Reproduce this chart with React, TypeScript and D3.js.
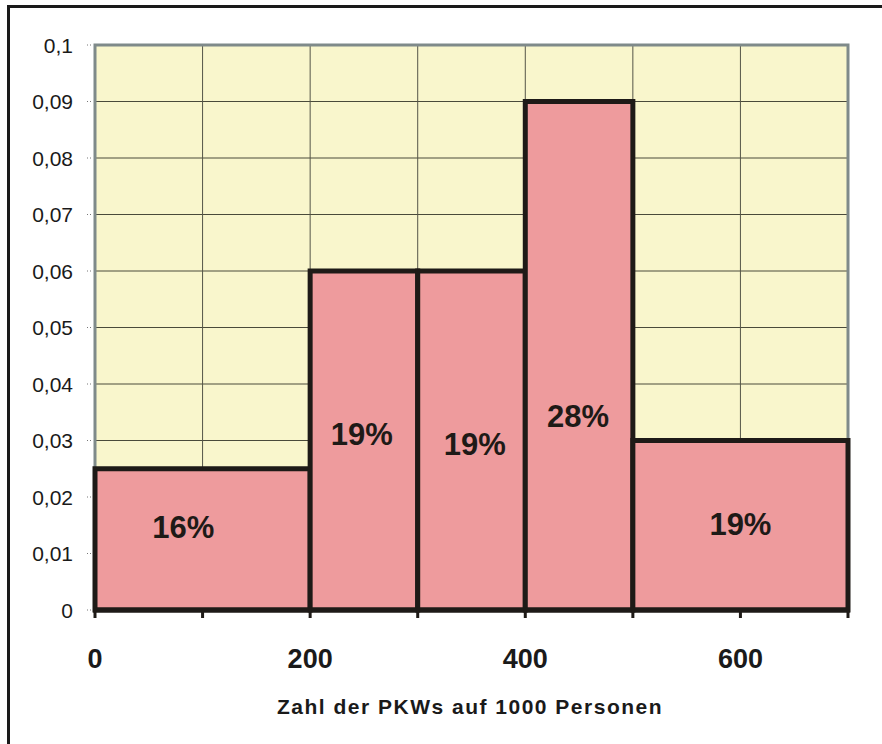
import React from "react";
import * as d3 from "d3";

// Histogram classes (PKWs per 1000 persons)
const binStarts = [0, 200, 300, 400, 500];
const binEnds = [200, 300, 400, 500, 700];
const densities = [0.025, 0.06, 0.06, 0.09, 0.03];
const shareLabels = ["16%", "19%", "19%", "28%", "19%"];
// label anchors in data units
const labelX = [82, 248, 353, 449, 600];
const labelY = [0.0127, 0.0292, 0.0274, 0.0324, 0.0133];

const yTicks = [0, 0.01, 0.02, 0.03, 0.04, 0.05, 0.06, 0.07, 0.08, 0.09, 0.1];
const xTickMarks = [0, 100, 200, 300, 400, 500, 600, 700];
const xTickLabels = [0, 200, 400, 600];
const xTitle = "Zahl der PKWs auf 1000 Personen";

const W = 882;
const H = 744;
const left = 95, right = 848, top = 45, bottom = 610;
const font = "'Liberation Sans', Arial, sans-serif";

export default function App() {
  const x = d3.scaleLinear().domain([0, 700]).range([left, right]);
  const y = d3.scaleLinear().domain([0, 0.1]).range([bottom, top]);
  const fmt = (v: number) => String(+v.toFixed(2)).replace(".", ",");

  return (
    <svg width={W} height={H} style={{ position: "absolute", left: 0, top: 0, background: "#fff" }}>
      {/* outer frame */}
      <line x1={8.5} y1={5} x2={8.5} y2={H} stroke="#1a1a1a" strokeWidth={3} />
      <line x1={7} y1={6.5} x2={W} y2={6.5} stroke="#1a1a1a" strokeWidth={3} />

      {/* plot background */}
      <rect x={left} y={top} width={right - left} height={bottom - top} fill="#f9f6cc" />

      {/* gridlines */}
      {yTicks.slice(1, -1).map((t) => (
        <line key={"hy" + t} x1={left} x2={right} y1={y(t)} y2={y(t)} stroke="#4a4a3a" strokeWidth={1} />
      ))}
      {xTickMarks.slice(1, -1).map((t) => (
        <line key={"vx" + t} x1={x(t)} x2={x(t)} y1={top} y2={bottom} stroke="#555548" strokeWidth={1} />
      ))}

      {/* plot border */}
      <path
        d={`M${left},${bottom} L${left},${top} L${right},${top} L${right},${bottom}`}
        fill="none"
        stroke="#7f8a8a"
        strokeWidth={3}
      />

      {/* bars */}
      {densities.map((d, i) => (
        <rect
          key={"b" + i}
          x={x(binStarts[i])}
          y={y(d)}
          width={x(binEnds[i]) - x(binStarts[i])}
          height={y(0) - y(d)}
          fill="#ee9b9d"
          stroke="#1e1a17"
          strokeWidth={5}
        />
      ))}

      {/* x axis line */}
      <line x1={left - 2} x2={right + 2} y1={bottom} y2={bottom} stroke="#1e1a17" strokeWidth={5} />
      {xTickMarks.map((t) => (
        <line key={"xt" + t} x1={x(t)} x2={x(t)} y1={bottom} y2={bottom + 8} stroke="#1e1a17" strokeWidth={3} />
      ))}

      {/* y ticks */}
      {yTicks.map((t) => (
        <g key={"yt" + t}>
          <line x1={left - 8} x2={left - 2} y1={y(t)} y2={y(t)} stroke="#777" strokeWidth={1} strokeDasharray="1,2" />
          <text x={73} y={y(t)} dy="0.36em" textAnchor="end" fontFamily={font} fontSize={21} fill="#1a1a1a">
            {fmt(t)}
          </text>
        </g>
      ))}

      {/* x tick labels */}
      {xTickLabels.map((t) => (
        <text key={"xl" + t} x={x(t)} y={668} textAnchor="middle" fontFamily={font} fontSize={27} fontWeight="bold" fill="#1a1a1a">
          {t}
        </text>
      ))}

      {/* bar labels */}
      {shareLabels.map((s, i) => (
        <text key={"l" + i} x={x(labelX[i])} y={y(labelY[i])} textAnchor="middle" fontFamily={font} fontSize={31} fontWeight="bold" fill="#1e1a17">
          {s}
        </text>
      ))}

      {/* x axis title */}
      <text x={470} y={714} textAnchor="middle" fontFamily={font} fontSize={21} fontWeight="bold" letterSpacing={1.5} fill="#1a1a1a">
        {xTitle}
      </text>
    </svg>
  );
}
